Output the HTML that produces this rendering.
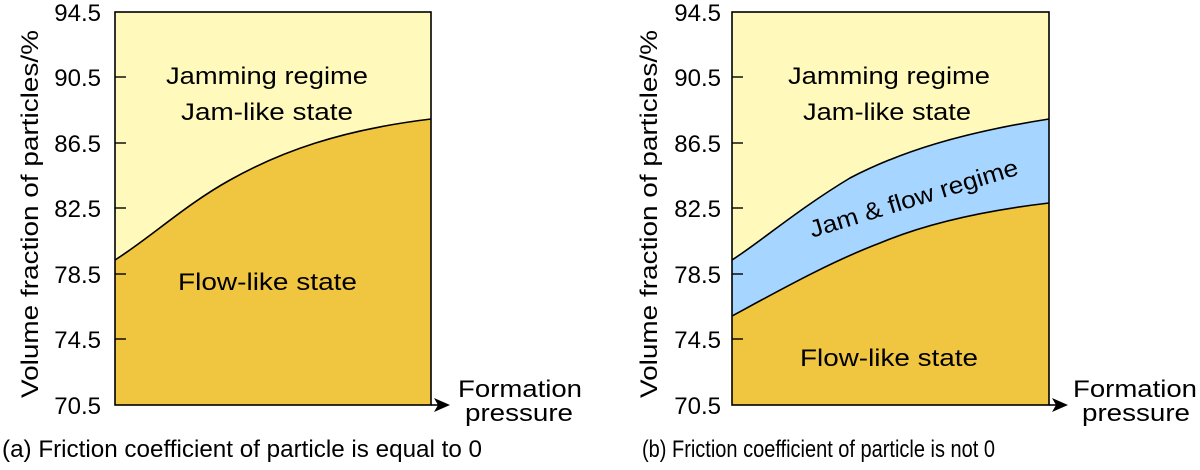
<!DOCTYPE html>
<html><head><meta charset="utf-8"><style>
html,body{margin:0;padding:0;background:#fff;}
svg{display:block;font-family:"Liberation Sans",Arial,sans-serif;}
</style></head><body>
<svg width="1200" height="470" viewBox="0 0 1200 470" xmlns="http://www.w3.org/2000/svg">
<!-- Plot A -->
<rect x="115" y="12" width="316" height="393" fill="#fffabb"/>
<path d="M115,260 C150,238 185,205 230,180 C280,152 340,130 431,119 L431,405 L115,405 Z" fill="#f0c540"/>
<path d="M115,260 C150,238 185,205 230,180 C280,152 340,130 431,119" fill="none" stroke="#000" stroke-width="1.6"/>
<rect x="115" y="12" width="316" height="393" fill="none" stroke="#000" stroke-width="1.6"/>
<line x1="431" y1="405" x2="440" y2="405" stroke="#000" stroke-width="1.6"/>
<path d="M434,398 L450,405 L434,412 L438,405 Z" fill="#000"/>
<g stroke="#000" stroke-width="1.4">
<line x1="115" y1="77" x2="126" y2="77"/><line x1="115" y1="143" x2="126" y2="143"/>
<line x1="115" y1="208" x2="126" y2="208"/><line x1="115" y1="274" x2="126" y2="274"/>
<line x1="115" y1="339" x2="126" y2="339"/>
</g>
<g font-size="24" text-anchor="end" fill="#000">
<text x="101" y="21">94.5</text><text x="101" y="86">90.5</text><text x="101" y="152">86.5</text>
<text x="101" y="217">82.5</text><text x="101" y="283">78.5</text><text x="101" y="348">74.5</text>
<text x="101" y="414">70.5</text>
</g>
<text transform="translate(38,214) rotate(-90)" font-size="24" text-anchor="middle" textLength="368" lengthAdjust="spacingAndGlyphs">Volume fraction of particles/%</text>
<text x="166" y="84" font-size="24" textLength="202" lengthAdjust="spacingAndGlyphs">Jamming regime</text>
<text x="181" y="120" font-size="24" textLength="172" lengthAdjust="spacingAndGlyphs">Jam-like state</text>
<text x="178" y="290" font-size="24" textLength="179" lengthAdjust="spacingAndGlyphs">Flow-like state</text>
<text x="458" y="397" font-size="24" textLength="124" lengthAdjust="spacingAndGlyphs">Formation</text>
<text x="465" y="421" font-size="24" textLength="108" lengthAdjust="spacingAndGlyphs">pressure</text>
<text x="2" y="457" font-size="24" textLength="480" lengthAdjust="spacingAndGlyphs">(a) Friction coefficient of particle is equal to 0</text>

<!-- Plot B -->
<rect x="732" y="12" width="317" height="393" fill="#fffabb"/>
<path d="M732,260 C760,242 800,208 850,178 C900,152 960,133 1049,119 L1049,203 C990,210 930,222 880,243 C830,262 780,290 732,316 Z" fill="#a6d5ff"/>
<path d="M732,316 C780,290 830,262 880,243 C930,222 990,210 1049,203 L1049,405 L732,405 Z" fill="#f0c540"/>
<path d="M732,260 C760,242 800,208 850,178 C900,152 960,133 1049,119" fill="none" stroke="#000" stroke-width="1.6"/>
<path d="M732,316 C780,290 830,262 880,243 C930,222 990,210 1049,203" fill="none" stroke="#000" stroke-width="1.6"/>
<rect x="732" y="12" width="317" height="393" fill="none" stroke="#000" stroke-width="1.6"/>
<line x1="1049" y1="405" x2="1058" y2="405" stroke="#000" stroke-width="1.6"/>
<path d="M1052,398 L1068,405 L1052,412 L1056,405 Z" fill="#000"/>
<g stroke="#000" stroke-width="1.4">
<line x1="732" y1="77" x2="743" y2="77"/><line x1="732" y1="143" x2="743" y2="143"/>
<line x1="732" y1="208" x2="743" y2="208"/><line x1="732" y1="274" x2="743" y2="274"/>
<line x1="732" y1="339" x2="743" y2="339"/>
</g>
<g font-size="24" text-anchor="end" fill="#000">
<text x="721" y="21">94.5</text><text x="721" y="86">90.5</text><text x="721" y="152">86.5</text>
<text x="721" y="217">82.5</text><text x="721" y="283">78.5</text><text x="721" y="348">74.5</text>
<text x="721" y="414">70.5</text>
</g>
<text transform="translate(657,214) rotate(-90)" font-size="24" text-anchor="middle" textLength="368" lengthAdjust="spacingAndGlyphs">Volume fraction of particles/%</text>
<text x="788" y="84" font-size="24" textLength="202" lengthAdjust="spacingAndGlyphs">Jamming regime</text>
<text x="803" y="120" font-size="24" textLength="168" lengthAdjust="spacingAndGlyphs">Jam-like state</text>
<text transform="translate(916,206) rotate(-17)" font-size="24" text-anchor="middle" textLength="217" lengthAdjust="spacingAndGlyphs">Jam &amp; flow regime</text>
<text x="800" y="366" font-size="24" textLength="178" lengthAdjust="spacingAndGlyphs">Flow-like state</text>
<text x="1073" y="397" font-size="24" textLength="124" lengthAdjust="spacingAndGlyphs">Formation</text>
<text x="1082" y="421" font-size="24" textLength="108" lengthAdjust="spacingAndGlyphs">pressure</text>
<text x="642" y="457" font-size="24" textLength="353" lengthAdjust="spacingAndGlyphs">(b) Friction coefficient of particle is not 0</text>
</svg>
</body></html>
